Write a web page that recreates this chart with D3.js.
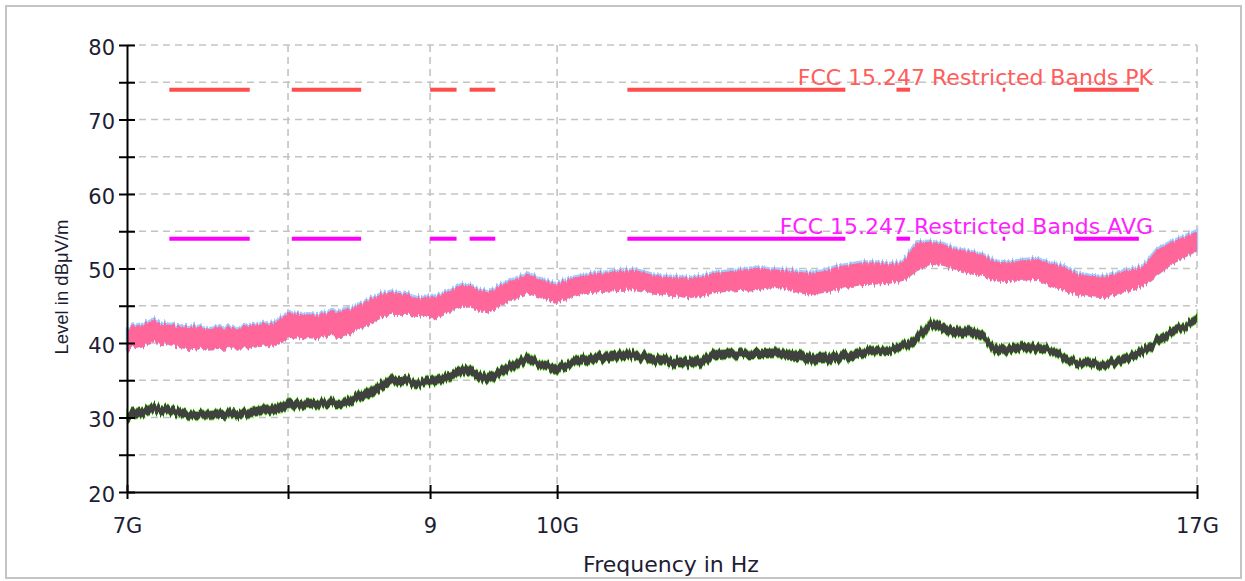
<!DOCTYPE html>
<html>
<head>
<meta charset="utf-8">
<script src="https://cdnjs.cloudflare.com/ajax/libs/d3/7.8.5/d3.min.js"></script>
<style>
  body { margin: 0; background: #fff; }
  svg { display: block; }
</style>
</head>
<body>
<script>
// frequency points in GHz (log spaced along the sweep)
var freqs = [
    7.00, 7.08, 7.16, 7.24, 7.32, 7.40, 7.48, 7.57, 7.65, 7.74,
    7.82, 7.91, 8.00, 8.09, 8.18, 8.27, 8.36, 8.45, 8.55, 8.64,
    8.74, 8.84, 8.93, 9.03, 9.14, 9.24, 9.34, 9.44, 9.55, 9.66,
    9.76, 9.87, 9.98, 10.09, 10.21, 10.32, 10.44, 10.55, 10.67, 10.79,
    10.91, 11.03, 11.15, 11.28, 11.40, 11.53, 11.66, 11.79, 11.92, 12.05,
    12.19, 12.32, 12.46, 12.60, 12.74, 12.88, 13.03, 13.17, 13.32, 13.47,
    13.62, 13.77, 13.92, 14.08, 14.24, 14.39, 14.55, 14.72, 14.88, 15.05,
    15.21, 15.38, 15.56, 15.73, 15.90, 16.08, 16.26, 16.44, 16.63, 16.81,
    17.00
];

// peak trace, upper and lower edge of the noise band (dBuV/m)
var peakHi = [
    42.0, 42.5, 43.0, 42.5, 42.2, 42.3, 41.8, 42.1, 42.0, 42.4,
    42.5, 42.8, 44.0, 43.9, 43.8, 44.2, 44.4, 44.8, 45.8, 46.5,
    46.8, 46.5, 46.0, 46.2, 47.0, 47.8, 47.4, 46.8, 47.8, 48.6,
    49.3, 48.5, 47.9, 48.6, 49.0, 49.4, 49.5, 49.7, 49.8, 49.3,
    48.9, 48.9, 48.7, 49.0, 49.4, 49.6, 49.8, 50.1, 49.9, 49.8,
    49.6, 49.4, 49.6, 50.2, 50.5, 50.8, 50.8, 50.6, 50.8, 53.5,
    53.6, 53.3, 52.6, 52.3, 51.8, 50.9, 50.8, 51.1, 51.3, 50.7,
    50.3, 49.4, 49.0, 48.9, 49.4, 49.8, 50.3, 52.5, 53.5, 54.2,
    55.0
];
var peakLo = [
    39.1, 39.5, 40.0, 39.8, 39.3, 39.2, 39.0, 39.1, 39.3, 39.3,
    39.5, 39.7, 40.5, 40.7, 40.6, 41.0, 40.8, 41.5, 42.4, 43.3,
    43.8, 43.8, 43.6, 43.2, 44.2, 44.8, 44.5, 44.0, 45.0, 45.9,
    46.6, 46.0, 45.3, 46.0, 46.5, 46.8, 46.9, 47.0, 47.1, 46.8,
    46.4, 46.3, 46.0, 46.3, 46.7, 46.9, 47.0, 47.1, 47.3, 47.4,
    46.8, 46.4, 46.7, 47.1, 47.5, 47.8, 47.9, 48.0, 48.2, 49.6,
    50.5, 50.4, 49.8, 49.3, 48.9, 48.3, 48.2, 48.4, 48.5, 47.6,
    47.0, 46.5, 46.2, 46.0, 46.5, 47.0, 47.6, 49.0, 50.4, 51.4,
    52.3
];

// average trace, upper and lower edge
var avgHi = [
    31.0, 31.3, 31.8, 31.6, 31.2, 30.9, 30.8, 31.0, 31.1, 31.2,
    31.5, 31.9, 32.3, 32.4, 32.5, 32.6, 32.5, 33.2, 34.0, 34.8,
    35.6, 35.5, 35.1, 35.6, 36.2, 36.9, 36.5, 35.8, 36.8, 37.7,
    38.6, 37.6, 37.1, 37.8, 38.3, 38.7, 38.9, 39.0, 39.0, 38.6,
    38.3, 38.1, 38.0, 38.4, 39.0, 39.1, 39.1, 39.2, 39.2, 39.3,
    39.0, 38.6, 38.7, 38.8, 39.0, 39.4, 39.6, 39.5, 40.0, 41.2,
    43.2, 42.6, 42.2, 42.2, 41.3, 39.7, 39.7, 40.0, 39.9, 39.6,
    38.6, 38.0, 37.8, 37.6, 38.2, 38.7, 39.5, 40.8, 42.0, 42.7,
    43.8
];
var avgLo = [
    29.6, 30.0, 30.5, 30.4, 30.0, 29.8, 29.7, 29.8, 29.9, 30.0,
    30.3, 30.6, 31.0, 31.2, 31.3, 31.4, 31.4, 31.9, 32.6, 33.4,
    34.4, 34.3, 34.0, 34.4, 35.0, 35.6, 35.2, 34.5, 35.5, 36.4,
    37.3, 36.5, 35.8, 36.6, 37.0, 37.4, 37.6, 37.7, 37.8, 37.3,
    37.0, 36.8, 36.7, 37.0, 37.7, 37.9, 38.0, 38.0, 38.0, 38.1,
    37.6, 37.2, 37.3, 37.4, 37.7, 38.2, 38.5, 38.4, 38.9, 39.8,
    41.9, 41.3, 40.9, 40.9, 40.1, 38.4, 38.5, 38.8, 38.7, 38.6,
    37.4, 36.9, 36.6, 36.5, 37.0, 37.5, 38.3, 39.6, 40.8, 41.6,
    42.7
];

// restricted bands (GHz) and their limits
var bandStart = [7.25, 8.025, 9.0, 9.3, 10.6, 13.25, 14.47, 15.35];
var bandStop = [7.75, 8.5, 9.2, 9.5, 12.7, 13.4, 14.5, 16.2];
var pkLimit = 74;
var avgLimit = 54;
var pkLabel = "FCC 15.247 Restricted Bands PK";
var avgLabel = "FCC 15.247 Restricted Bands AVG";

// ticks
var yTicks = [20, 25, 30, 35, 40, 45, 50, 55, 60, 65, 70, 75, 80];
var yLabels = [20, 30, 40, 50, 60, 70, 80];
var xTicks = [7, 8, 9, 10, 17];
var xTickLabels = ["7G", "", "9", "10G", "17G"];

var width = 1245;
var height = 581;
var font = "'DejaVu Sans', Tahoma, sans-serif";

var svg = d3.select("body")
    .append("svg")
    .attr("width", width)
    .attr("height", height);

// hairy texture for the dense sweep traces
var defs = svg.append("defs");
var hair = defs.append("filter")
    .attr("id", "hair")
    .attr("filterUnits", "userSpaceOnUse")
    .attr("x", 0).attr("y", 0)
    .attr("width", width).attr("height", height);
hair.append("feTurbulence")
    .attr("type", "fractalNoise")
    .attr("baseFrequency", "0.5 0.004")
    .attr("numOctaves", 1)
    .attr("seed", 4)
    .attr("result", "n");
hair.append("feColorMatrix")
    .attr("in", "n")
    .attr("type", "matrix")
    .attr("values", "0 0 0 0 0.5  0 1 0 0 0  0 0 0 0 0  0 0 0 0 1")
    .attr("result", "m");
hair.append("feDisplacementMap")
    .attr("in", "SourceGraphic")
    .attr("in2", "m")
    .attr("scale", 11)
    .attr("xChannelSelector", "R")
    .attr("yChannelSelector", "G");

// outer frame
svg.append("rect")
    .attr("x", 6).attr("y", 6)
    .attr("width", 1235).attr("height", 572)
    .attr("fill", "#fff")
    .attr("stroke", "#c4c4c4")
    .attr("stroke-width", 2);

var x = d3.scaleLog().domain([7, 17]).range([127, 1197]);
var y = d3.scaleLinear().domain([20, 80]).range([492, 45]);

// dashed grid
svg.append("g")
    .selectAll("line")
    .data(yTicks.slice(1))
    .enter().append("line")
    .attr("x1", x(7)).attr("x2", x(17))
    .attr("y1", function(d) { return y(d); })
    .attr("y2", function(d) { return y(d); })
    .attr("stroke", "#c3c3c3")
    .attr("stroke-width", 1.6)
    .attr("stroke-dasharray", "7,5");

svg.append("g")
    .selectAll("line")
    .data(xTicks.slice(1))
    .enter().append("line")
    .attr("x1", function(d) { return x(d); })
    .attr("x2", function(d) { return x(d); })
    .attr("y1", y(80)).attr("y2", y(20))
    .attr("stroke", "#c3c3c3")
    .attr("stroke-width", 1.6)
    .attr("stroke-dasharray", "7,5");

var rows = freqs.map(function(f, i) {
    return { f: f, pHi: peakHi[i], pLo: peakLo[i], aHi: avgHi[i], aLo: avgLo[i] };
});

var peakArea = d3.area()
    .x(function(d) { return x(d.f); })
    .y0(function(d) { return y(d.pLo); })
    .y1(function(d) { return y(d.pHi); });

var avgArea = d3.area()
    .x(function(d) { return x(d.f); })
    .y0(function(d) { return y(d.aLo); })
    .y1(function(d) { return y(d.aHi); });

var traces = svg.append("g").attr("filter", "url(#hair)");

// blue / green traces peek out around the main ones
traces.append("path")
    .attr("d", peakArea(rows))
    .attr("transform", "translate(0,-1)")
    .attr("fill", "#9fcbff")
    .attr("stroke", "#9fcbff")
    .attr("stroke-width", 2.5);
traces.append("path")
    .attr("d", peakArea(rows))
    .attr("fill", "#ff6699");

traces.append("path")
    .attr("d", avgArea(rows))
    .attr("fill", "#7de84a")
    .attr("stroke", "#7de84a")
    .attr("stroke-width", 2);
traces.append("path")
    .attr("d", avgArea(rows))
    .attr("fill", "#404040");

// limit lines on the restricted bands
function limitLines(level, colour) {
    svg.append("g")
        .selectAll("line")
        .data(bandStart)
        .enter().append("line")
        .attr("x1", function(d) { return x(d); })
        .attr("x2", function(d, i) { return x(bandStop[i]); })
        .attr("y1", y(level)).attr("y2", y(level))
        .attr("stroke", colour)
        .attr("stroke-width", 4);
}
limitLines(pkLimit, "#ff4d4d");
limitLines(avgLimit, "#ff00ff");

svg.append("text")
    .attr("x", 1153).attr("y", y(pkLimit) - 5)
    .attr("text-anchor", "end")
    .attr("font-family", font)
    .attr("font-size", 22)
    .attr("fill", "#ff5c5c")
    .text(pkLabel);

svg.append("text")
    .attr("x", 1153).attr("y", y(avgLimit) - 5)
    .attr("text-anchor", "end")
    .attr("font-family", font)
    .attr("font-size", 22)
    .attr("fill", "#ff1eff")
    .text(avgLabel);

// y axis, ticks cross the axis line
var yAxis = svg.append("g")
    .attr("transform", "translate(" + x(7) + ",0)")
    .call(d3.axisLeft(y)
        .tickValues(yTicks)
        .tickSize(8)
        .tickPadding(4)
        .tickSizeOuter(0)
        .tickFormat(function(d) { return yLabels.indexOf(d) >= 0 ? d : ""; }));
yAxis.select(".domain").attr("stroke", "#000").attr("stroke-width", 2);
yAxis.selectAll(".tick line").attr("x1", 8).attr("stroke-width", 2);
yAxis.selectAll(".tick text")
    .attr("font-family", font)
    .attr("font-size", 21)
    .attr("fill", "#1d1d33")
    .attr("dy", "0.45em");

// x axis
var xAxis = svg.append("g")
    .attr("transform", "translate(0," + y(20) + ")")
    .call(d3.axisBottom(x)
        .tickValues(xTicks)
        .tickSize(7)
        .tickSizeOuter(0)
        .tickFormat(function(d, i) { return xTickLabels[i]; }));
xAxis.select(".domain").attr("stroke", "#000").attr("stroke-width", 2);
xAxis.selectAll(".tick line").attr("y1", -7).attr("stroke-width", 2);
xAxis.selectAll(".tick text")
    .attr("font-family", font)
    .attr("font-size", 21)
    .attr("fill", "#1d1d33")
    .attr("y", 41)
    .attr("dy", 0);

// axis titles
svg.append("text")
    .attr("x", 671).attr("y", 572)
    .attr("text-anchor", "middle")
    .attr("font-family", font)
    .attr("font-size", 22)
    .attr("fill", "#1d1d33")
    .text("Frequency in Hz");

svg.append("text")
    .attr("transform", "translate(68,287) rotate(-90)")
    .attr("text-anchor", "middle")
    .attr("font-family", "'Liberation Sans', Arial, sans-serif")
    .attr("font-size", 18.5)
    .attr("fill", "#1d1d33")
    .text("Level in dBμV/m");
</script>
</body>
</html>
